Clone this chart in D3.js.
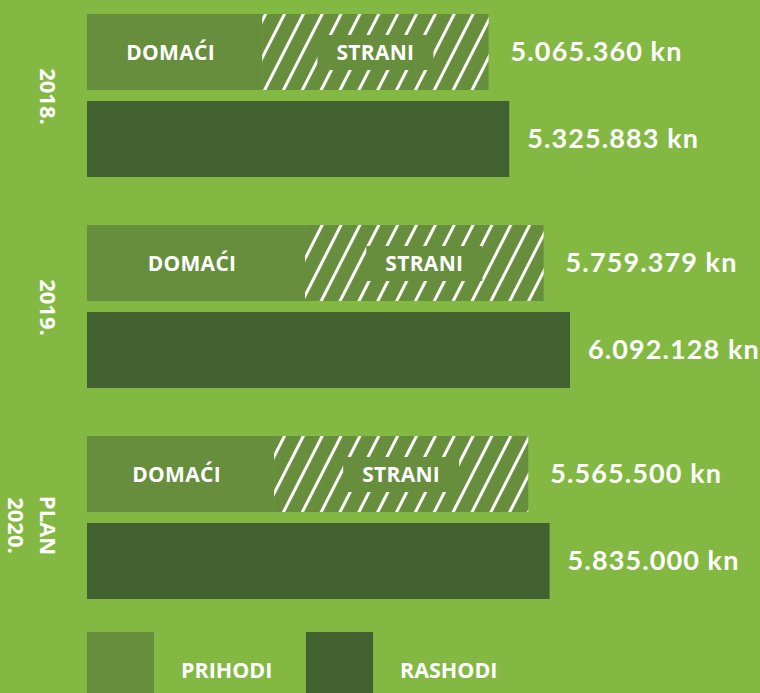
<!DOCTYPE html>
<html>
<head>
<meta charset="utf-8">
<script src="https://cdn.jsdelivr.net/npm/d3@7"></script>
<style>
    body { margin: 0; background: #83b942; }
    svg text { fill: #fff; }
</style>
</head>
<body>
<div id="chart"></div>
<script>
// Data (domestic share estimated from bar split)
var years = ["2018.", "2019.", "PLAN 2020."];
var prihodi = [5065360, 5759379, 5565500];
var domaci = [2210000, 2750000, 2360000];
var rashodi = [5325883, 6092128, 5835000];
var legendLabels = ["PRIHODI", "RASHODI"];

var svgWidth = 760;
var svgHeight = 693;

var colors = {
    bg: "#83b942",
    prihodi: "#678e3d",
    rashodi: "#416131"
};

var hr = d3.formatLocale({ decimal: ",", thousands: ".", grouping: [3], currency: ["", " kn"] });
var fmt = hr.format(",");

var svg = d3.select("#chart")
    .append("svg")
    .attr("width", svgWidth)
    .attr("height", svgHeight);

svg.append("rect")
    .attr("width", svgWidth)
    .attr("height", svgHeight)
    .attr("fill", colors.bg);

// hatch pattern for foreign income
var pattern = svg.append("defs").append("pattern")
    .attr("id", "hatch")
    .attr("patternUnits", "userSpaceOnUse")
    .attr("width", 16.8)
    .attr("height", 20)
    .attr("patternTransform", "rotate(27)");

pattern.append("rect")
    .attr("width", 16.8)
    .attr("height", 20)
    .attr("fill", colors.prihodi);

pattern.append("rect")
    .attr("x", 0)
    .attr("width", 3)
    .attr("height", 20)
    .attr("fill", "#fff");

// scales
var xScale = d3.scaleLinear()
    .domain([0, d3.max(rashodi)])
    .range([87, 570]);

var yScale = d3.scaleBand()
    .domain(years)
    .range([14, 599])
    .paddingInner(48 / 211);

var innerScale = d3.scaleBand()
    .domain(["prihodi", "rashodi"])
    .range([0, yScale.bandwidth()])
    .paddingInner(11 / 87);

var rows = years.map(function(y, i) {
    return { year: y, prihodi: prihodi[i], domaci: domaci[i], rashodi: rashodi[i] };
});

var groups = svg.selectAll(".year")
    .data(rows)
    .enter()
    .append("g")
    .attr("class", "year")
    .attr("transform", d => `translate(0, ${yScale(d.year)})`);

var bh = innerScale.bandwidth();
var yP = innerScale("prihodi");
var yR = innerScale("rashodi");

// domestic part
groups.append("rect")
    .attr("x", xScale(0))
    .attr("y", yP)
    .attr("width", d => xScale(d.domaci) - xScale(0))
    .attr("height", bh)
    .attr("fill", colors.prihodi);

// foreign part (hatched)
groups.append("rect")
    .attr("x", d => xScale(d.domaci))
    .attr("y", yP)
    .attr("width", d => xScale(d.prihodi) - xScale(d.domaci))
    .attr("height", bh)
    .attr("fill", "url(#hatch)");

// expenses
groups.append("rect")
    .attr("x", xScale(0))
    .attr("y", yR)
    .attr("width", d => xScale(d.rashodi) - xScale(0))
    .attr("height", bh)
    .attr("fill", colors.rashodi);

var labelStyle = function(sel) {
    sel.attr("font-family", "'Open Sans', sans-serif")
        .attr("font-weight", 700)
        .attr("font-size", "21px")
        .attr("letter-spacing", "0.3px")
        .attr("text-anchor", "middle");
};

groups.append("text")
    .call(labelStyle)
    .attr("x", d => (xScale(0) + xScale(d.domaci)) / 2 - 4)
    .attr("y", yP + bh / 2 + 7.5)
    .text("DOMAĆI");

// box behind STRANI label
groups.append("rect")
    .attr("x", d => (xScale(d.domaci) + xScale(d.prihodi)) / 2 - 58)
    .attr("y", yP + 21)
    .attr("width", 116)
    .attr("height", 35)
    .attr("fill", colors.prihodi);

groups.append("text")
    .call(labelStyle)
    .attr("x", d => (xScale(d.domaci) + xScale(d.prihodi)) / 2)
    .attr("y", yP + bh / 2 + 7.5)
    .text("STRANI");

// value labels
var valueStyle = function(sel) {
    sel.attr("font-family", "Lato, sans-serif")
        .attr("font-weight", 700)
        .attr("font-size", "27px")
        .attr("letter-spacing", "1.1px");
};

groups.append("text")
    .call(valueStyle)
    .attr("x", d => xScale(d.prihodi) + 22)
    .attr("y", yP + bh / 2 + 9)
    .text(d => fmt(d.prihodi) + " kn");

groups.append("text")
    .call(valueStyle)
    .attr("x", d => xScale(d.rashodi) + 18)
    .attr("y", yR + bh / 2 + 9)
    .text(d => fmt(d.rashodi) + " kn");

// year labels, rotated
var yearText = groups.append("text")
    .attr("font-family", "'Open Sans', sans-serif")
    .attr("font-weight", 700)
    .attr("font-size", "22px")
    .attr("text-anchor", "middle")
    .attr("transform", d => `translate(40, ${yScale.bandwidth() / 2 + (d.year.indexOf(" ") > 0 ? 8 : 1)}) rotate(90)`);

yearText.selectAll("tspan")
    .data(d => d.year.split(" "))
    .enter()
    .append("tspan")
    .attr("x", 0)
    .attr("dy", (d, i) => i === 0 ? 0 : 32.5)
    .text(d => d);

// legend
var legend = svg.selectAll(".legend")
    .data(legendLabels)
    .enter()
    .append("g")
    .attr("class", "legend")
    .attr("transform", (d, i) => `translate(${87 + i * 219}, 632)`);

legend.append("rect")
    .attr("width", 67)
    .attr("height", 70)
    .attr("fill", (d, i) => i === 0 ? colors.prihodi : colors.rashodi);

legend.append("text")
    .attr("x", 94)
    .attr("y", 46)
    .attr("font-family", "'Open Sans', sans-serif")
    .attr("font-weight", 700)
    .attr("font-size", "21.5px")
    .text(d => d);
</script>
</body>
</html>
